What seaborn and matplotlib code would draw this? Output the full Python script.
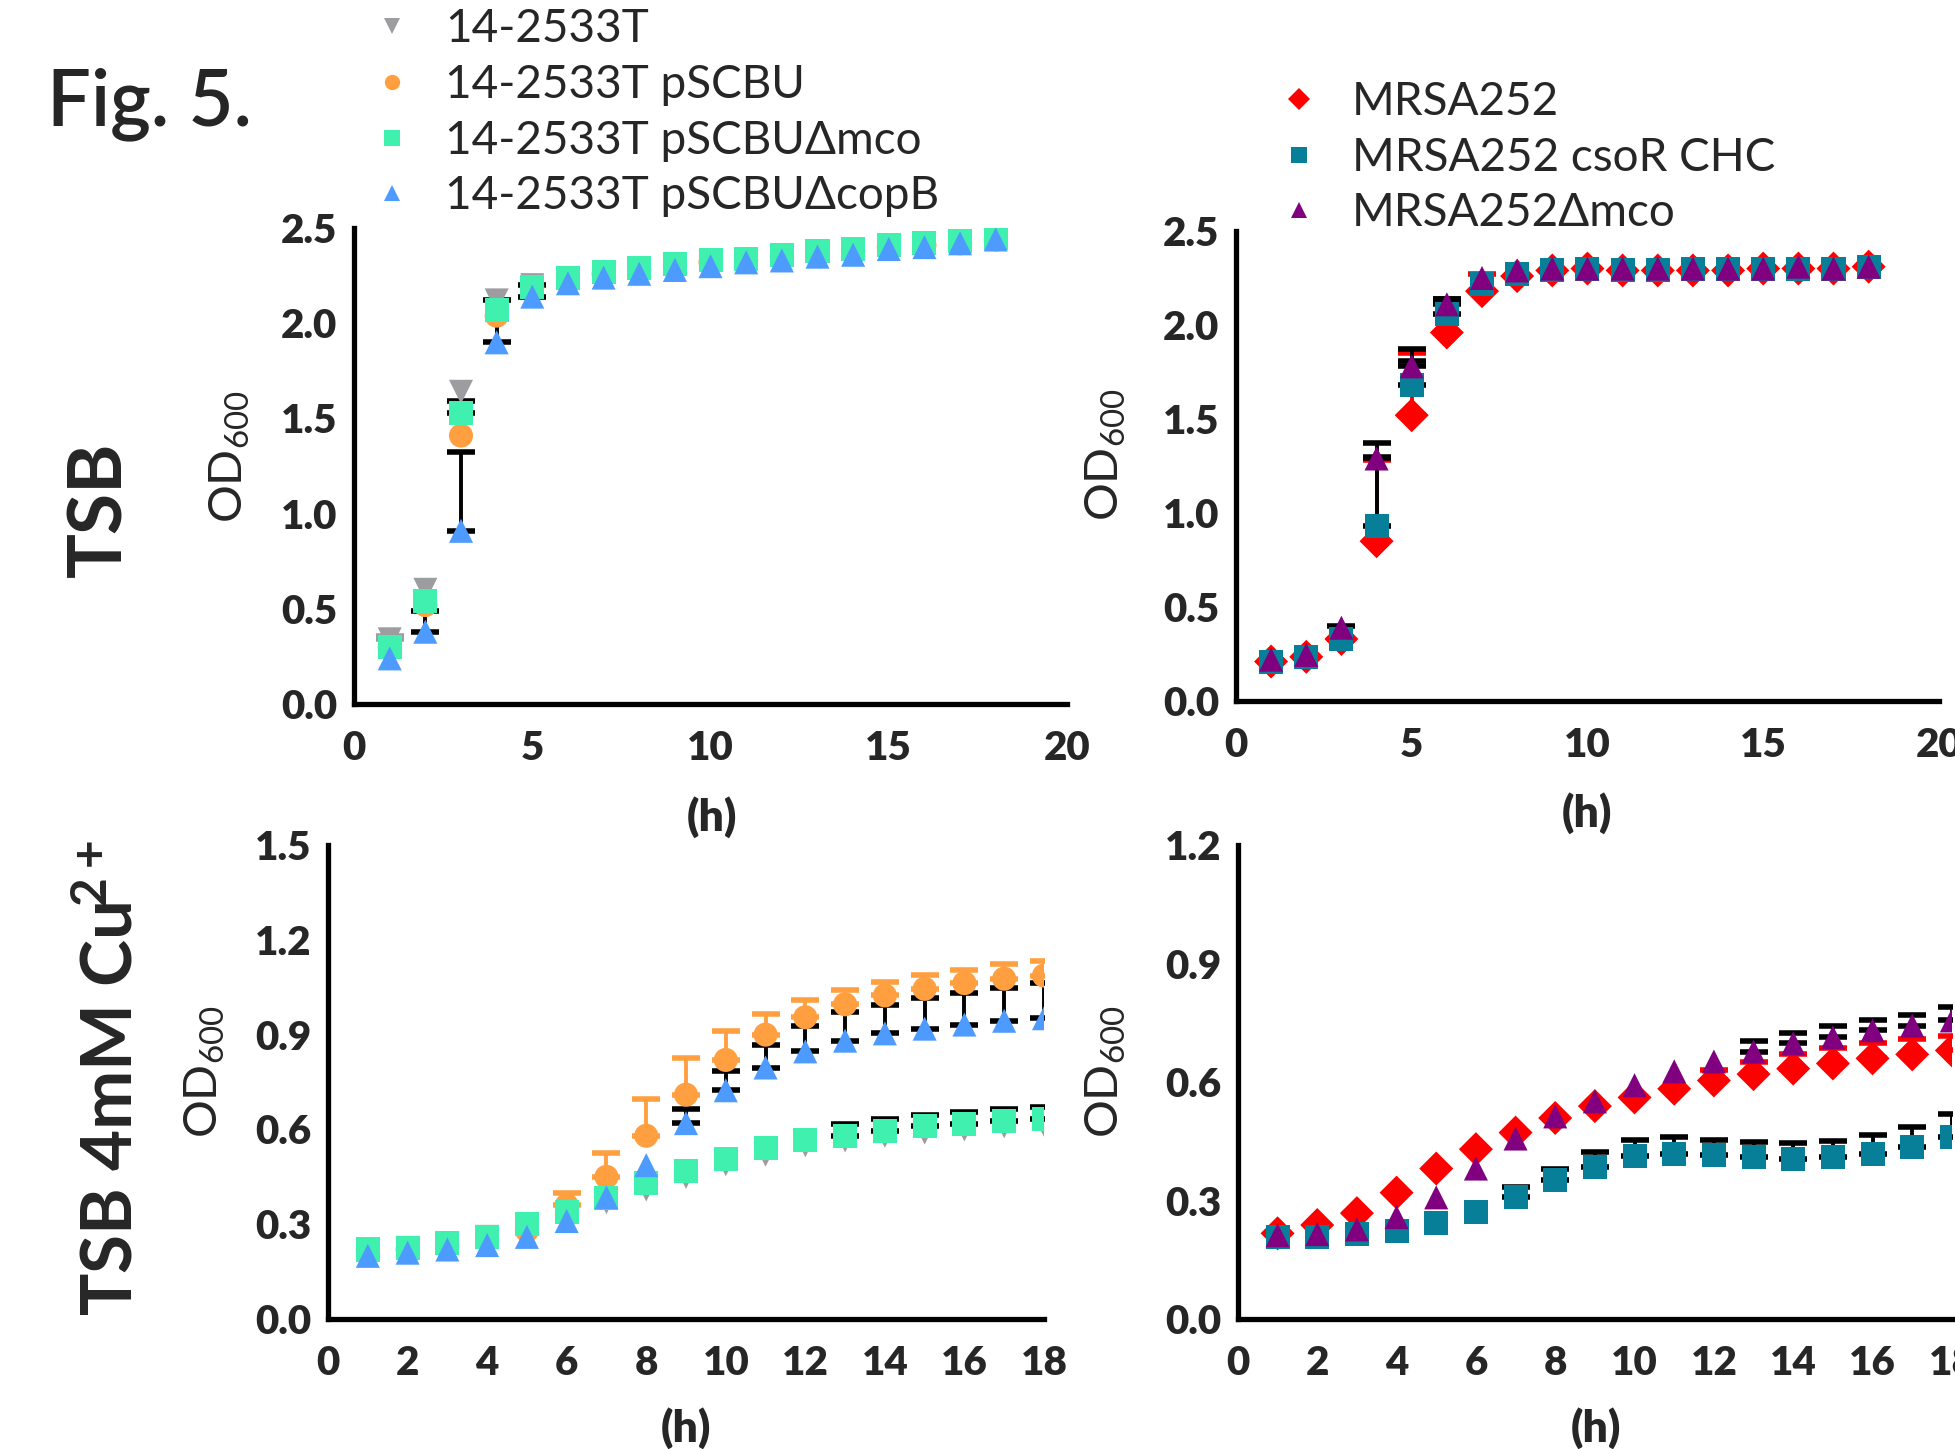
import numpy as np
import pandas as pd
import matplotlib
matplotlib.use("Agg")
import matplotlib.pyplot as plt
from matplotlib.lines import Line2D
import seaborn as sns

sns.set_style("white")
plt.rcParams['font.family'] = ['Lato', 'DejaVu Sans']
plt.rcParams['mathtext.default'] = 'regular'

hours = list(range(1, 19))

# ---- TSB, 14-2533T strains ----
tsb_gray = [0.34, 0.60, 1.64, 2.12, 2.20, 2.23, 2.26, 2.28, 2.30, 2.32, 2.33, 2.35, 2.37, 2.38, 2.40, 2.41, 2.42, 2.44]
tsb_orange = [0.30, 0.52, 1.41, 2.04, 2.19, 2.23, 2.26, 2.28, 2.30, 2.32, 2.33, 2.35, 2.37, 2.38, 2.40, 2.41, 2.42, 2.44]
tsb_green = [0.30, 0.54, 1.53, 2.07, 2.19, 2.24, 2.27, 2.29, 2.31, 2.33, 2.34, 2.36, 2.38, 2.39, 2.41, 2.42, 2.43, 2.45]
tsb_blue = [0.24, 0.38, 0.91, 1.90, 2.14, 2.21, 2.24, 2.26, 2.28, 2.30, 2.32, 2.33, 2.35, 2.36, 2.39, 2.40, 2.42, 2.44]
tsb_gray_err = [0.02] + [0] * 17
tsb_orange_err = [0] * 18
tsb_green_err = [0, 0, 0.06] + [0] * 15
tsb_blue_err = [0, 0.11, 0.415, 0.22, 0.06] + [0] * 13

# ---- TSB, MRSA252 strains ----
tsb_red = [0.21, 0.235, 0.33, 0.85, 1.52, 1.96, 2.18, 2.26, 2.29, 2.30, 2.29, 2.29, 2.29, 2.29, 2.30, 2.30, 2.30, 2.31]
tsb_teal = [0.21, 0.235, 0.33, 0.93, 1.68, 2.06, 2.22, 2.27, 2.29, 2.30, 2.29, 2.29, 2.30, 2.30, 2.30, 2.30, 2.30, 2.31]
tsb_purple = [0.22, 0.245, 0.39, 1.29, 1.78, 2.11, 2.25, 2.29, 2.30, 2.30, 2.30, 2.30, 2.30, 2.30, 2.30, 2.31, 2.30, 2.31]
tsb_red_err = [0, 0, 0, 0.43, 0.33, 0, 0.09] + [0] * 11
tsb_teal_err = [0, 0, 0.07, 0.37, 0.13, 0.08] + [0] * 12
tsb_purple_err = [0, 0, 0, 0.08, 0.09, 0.03] + [0] * 12

# ---- TSB 4mM Cu, 14-2533T strains ----
cu_gray = [0.22, 0.225, 0.24, 0.26, 0.30, 0.33, 0.37, 0.41, 0.45, 0.49, 0.52, 0.55, 0.565, 0.58, 0.59, 0.60, 0.61, 0.615]
cu_orange = [0.22, 0.22, 0.23, 0.25, 0.28, 0.36, 0.45, 0.58, 0.71, 0.82, 0.90, 0.955, 0.996, 1.024, 1.045, 1.063, 1.077, 1.087]
cu_green = [0.22, 0.224, 0.24, 0.26, 0.30, 0.34, 0.383, 0.43, 0.468, 0.506, 0.54, 0.566, 0.58, 0.594, 0.61, 0.617, 0.626, 0.632]
cu_blue = [0.20, 0.21, 0.22, 0.234, 0.26, 0.31, 0.385, 0.487, 0.62, 0.724, 0.796, 0.847, 0.881, 0.904, 0.919, 0.932, 0.944, 0.952]
cu_gray_err = [0] * 18
cu_orange_err = [0, 0, 0, 0, 0, 0.04, 0.075, 0.115, 0.115, 0.09, 0.065, 0.055, 0.045, 0.044, 0.043, 0.043, 0.045, 0.047]
cu_green_err = [0] * 12 + [0.036, 0.038, 0.037, 0.038, 0.038, 0.04]
cu_blue_err = [0] * 8 + [0.046, 0.06, 0.07, 0.08, 0.09, 0.09, 0.096, 0.10, 0.105, 0.11]

# ---- TSB 4mM Cu, MRSA252 strains ----
cu_red = [0.217, 0.238, 0.268, 0.32, 0.381, 0.43, 0.472, 0.509, 0.539, 0.561, 0.583, 0.604, 0.62, 0.634, 0.647, 0.66, 0.67, 0.68]
cu_teal = [0.207, 0.207, 0.215, 0.222, 0.243, 0.27, 0.308, 0.351, 0.384, 0.412, 0.418, 0.415, 0.41, 0.406, 0.41, 0.418, 0.435, 0.46]
cu_purple = [0.212, 0.215, 0.227, 0.258, 0.308, 0.381, 0.457, 0.513, 0.551, 0.592, 0.627, 0.652, 0.677, 0.698, 0.713, 0.731, 0.743, 0.756]
cu_red_err = [0] * 11 + [0.026, 0.03, 0.036, 0.038, 0.038, 0.04, 0.036]
cu_teal_err = [0] * 6 + [0.026, 0.03, 0.04, 0.041, 0.042, 0.038, 0.038, 0.039, 0.04, 0.047, 0.05, 0.06]
cu_purple_err = [0] * 12 + [0.028, 0.027, 0.028, 0.027, 0.028, 0.033]

left_strains = ['14-2533T', '14-2533T pSCBU', '14-2533T pSCBU\u0394mco', '14-2533T pSCBU\u0394copB']
right_strains = ['MRSA252', 'MRSA252 csoR CHC', 'MRSA252\u0394mco']

palette = {
    '14-2533T': '#9d9da1',
    '14-2533T pSCBU': '#ff9f40',
    '14-2533T pSCBU\u0394mco': '#40f0ae',
    '14-2533T pSCBU\u0394copB': '#4d9bff',
    'MRSA252': '#ff0000',
    'MRSA252 csoR CHC': '#087f99',
    'MRSA252\u0394mco': '#800080',
}
markers = {
    '14-2533T': 'v',
    '14-2533T pSCBU': 'o',
    '14-2533T pSCBU\u0394mco': 's',
    '14-2533T pSCBU\u0394copB': '^',
    'MRSA252': 'D',
    'MRSA252 csoR CHC': 's',
    'MRSA252\u0394mco': '^',
}
err_color = {
    '14-2533T': '#9d9da1',
    '14-2533T pSCBU': '#ff9f40',
    '14-2533T pSCBU\u0394mco': 'black',
    '14-2533T pSCBU\u0394copB': 'black',
    'MRSA252': '#ff0000',
    'MRSA252 csoR CHC': 'black',
    'MRSA252\u0394mco': 'black',
}


def make_df(strains, values, errs):
    rows = []
    for s, v, e in zip(strains, values, errs):
        rows.append(pd.DataFrame({'h': hours, 'od': v, 'err': e, 'strain': s}))
    return pd.concat(rows, ignore_index=True)


panels = [
    (make_df(left_strains, [tsb_gray, tsb_orange, tsb_green, tsb_blue],
             [tsb_gray_err, tsb_orange_err, tsb_green_err, tsb_blue_err]),
     [0.1811, 0.5141, 0.3647, 0.3285], 20, 5, 2.5, 0.5),
    (make_df(right_strains, [tsb_red, tsb_teal, tsb_purple],
             [tsb_red_err, tsb_teal_err, tsb_purple_err]),
     [0.6322, 0.5162, 0.3596, 0.3244], 20, 5, 2.5, 0.5),
    (make_df(left_strains, [cu_gray, cu_orange, cu_green, cu_blue],
             [cu_gray_err, cu_orange_err, cu_green_err, cu_blue_err]),
     [0.1678, 0.0897, 0.3662, 0.3271], 18, 2, 1.5, 0.3),
    (make_df(right_strains, [cu_red, cu_teal, cu_purple],
             [cu_red_err, cu_teal_err, cu_purple_err]),
     [0.6332, 0.0897, 0.3652, 0.3271], 18, 2, 1.2, 0.3),
]

fig = plt.figure(figsize=(19.55, 14.49), dpi=100)

for df, rect, xmax, xstep, ymax, ystep in panels:
    ax = fig.add_axes(rect)
    # upper error bars only (where there is one), drawn below the symbols
    for s, g in df[df['err'] > 0].groupby('strain', sort=False):
        ax.errorbar(g['h'], g['od'], yerr=[np.zeros(len(g)), g['err']],
                    fmt='none', ecolor=err_color[s], elinewidth=2.8,
                    capsize=10, capthick=4, zorder=2)
    sns.scatterplot(data=df, x='h', y='od', hue='strain', style='strain',
                    palette=palette, markers=markers, s=300, linewidth=0,
                    legend=False, ax=ax, zorder=3)
    ax.set_xlim(0, xmax)
    ax.set_ylim(0, ymax)
    ax.set_xticks(np.arange(0, xmax + 0.01, xstep))
    yt = np.arange(0, ymax + 0.001, ystep)
    ax.set_yticks(yt)
    ax.set_yticklabels(['%.1f' % v for v in yt])
    ax.set_xlabel('')
    ax.set_ylabel('')
    for side in ['top', 'right']:
        ax.spines[side].set_visible(False)
    for side in ['left', 'bottom']:
        ax.spines[side].set_linewidth(3.8)
        ax.spines[side].set_color('black')
    ax.tick_params(axis='both', direction='out', length=10, width=3.8,
                   labelsize=29, color='black')
    ax.tick_params(axis='x', pad=9)
    ax.tick_params(axis='y', pad=2)
    for lab in ax.get_xticklabels() + ax.get_yticklabels():
        lab.set_fontweight('heavy')
    ax.patch.set_alpha(0)

# axis titles
for xc, yc in [(712, 817), (1587, 813), (686, 1428), (1596, 1428)]:
    fig.text(xc / 1955, 1 - yc / 1449, '(h)', fontsize=32, fontweight='heavy',
             ha='center', va='center')
for xc, yc in [(230, 457), (1106, 455), (205, 1072), (1106, 1072)]:
    fig.text(xc / 1955, 1 - yc / 1449, 'OD$_{600}$', fontsize=34,
             rotation=90, ha='center', va='center')

fig.text(47 / 1955, 1 - 125 / 1449, 'Fig. 5.', fontsize=56, fontweight='semibold',
         va='baseline')
fig.text(100 / 1955, 1 - 509 / 1449, 'TSB', fontsize=54, fontweight='bold',
         rotation=90, ha='center', va='center')
fig.text(112 / 1955, 1 - 1078 / 1449, 'TSB 4mM Cu$^{\\!2+}$', fontsize=51,
         fontweight='bold', rotation=90, ha='center', va='center')


# legends
def handles(strains):
    return [Line2D([], [], marker=markers[s], color=palette[s], linestyle='none',
                   markersize=11, markeredgewidth=0) for s in strains]


fig.legend(handles(left_strains), left_strains, loc='center left',
           bbox_to_anchor=(0.189, 0.9222), frameon=False, fontsize=33,
           handlelength=1.0, handletextpad=0.65, labelspacing=0.3,
           borderpad=0, borderaxespad=0)
fig.legend(handles(right_strains), right_strains, loc='center left',
           bbox_to_anchor=(0.6527, 0.8912), frameon=False, fontsize=33,
           handlelength=1.0, handletextpad=0.65, labelspacing=0.3,
           borderpad=0, borderaxespad=0)

fig.savefig('out.png', dpi=100)
